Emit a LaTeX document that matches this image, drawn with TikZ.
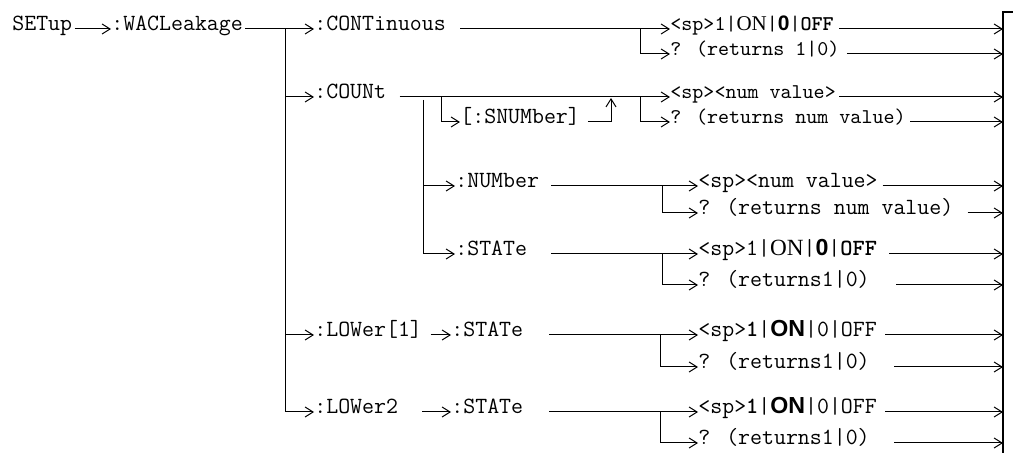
\documentclass[tikz,border=0pt]{standalone}
\usepackage{fontspec}
\setmainfont{Liberation Serif}
\setsansfont{Liberation Sans}
\usetikzlibrary{arrows.meta}
\tikzset{
  cmd/.style={anchor=west, inner xsep=0pt, inner ysep=0pt, text height=2pt,
    text depth=0pt, font=\ttfamily\fontsize{11.6}{13}\selectfont},
  cmdsm/.style={cmd, font=\ttfamily\fontsize{10.5}{12}\selectfont},
  flow/.style={-{Straight Barb[length=4pt,width=5pt]}, line width=0.5pt},
  bar/.style={line width=0.6pt}
}
\newcommand{\bsf}[1]{\textsf{\bfseries #1}}

\begin{document}
\begin{tikzpicture}[x=0.5pt,y=-0.5pt]
\useasboundingbox (0,0) rectangle (1033,453);

% Command tree on the left
\node[cmd] (setup) at (12,29) {SETup};
\node[cmd] (wac) at (111,29) {:WACLeakage};
\node[cmd] (cont) at (314,29) {:CONTinuous};
\node[cmd] (count) at (314,97) {:COUNt};
\node[cmd] (snum) at (460,122) {[:SNUMber]};
\node[cmd] (numb) at (455,186) {:NUMber};
\node[cmd] (cstate) at (455,254) {:STATe};
\node[cmd] (low1) at (314,335) {:LOWer[1]};
\node[cmd] (l1state) at (451,335) {:STATe};
\node[cmd] (low2) at (314,412) {:LOWer2};
\node[cmd] (l2state) at (451,412) {:STATe};

% Parameters and queries
\node[cmdsm] (contset) at (670,29) {<sp>1|\textrm{ON}|\bsf{0}|\textbf{OFF}};
\node[cmdsm] (contq) at (670,54) {? (returns 1|0)};
\node[cmdsm] (countset) at (670,97) {<sp><num value>};
\node[cmdsm] (countq) at (670,122) {? (returns num value)};
\node[cmd] (numset) at (698,186) {<sp><num value>};
\node[cmd] (numq) at (698,213) {? (returns num value)};
\node[cmd] (cstset) at (698,254) {<sp>1|\textrm{ON}|\bsf{0}|\textbf{OFF}};
\node[cmd] (cstq) at (698,285) {? (returns1|0)};
\node[cmd] (l1set) at (698,335) {<sp>\textbf{1}|\bsf{ON}|0|OFF};
\node[cmd] (l1q) at (698,367) {? (returns1|0)};
\node[cmd] (l2set) at (698,412) {<sp>\textbf{1}|\bsf{ON}|0|OFF};
\node[cmd] (l2q) at (698,443) {? (returns1|0)};

% Junction points
\coordinate (trunk) at (285,29);
\coordinate (contj) at (640,29);
\coordinate (countj) at (640,97);
\coordinate (sub) at (423,100);
\coordinate (opt) at (441,97);
\coordinate (optend) at (611,98);
\coordinate (numj) at (662,186);
\coordinate (cstj) at (662,254);
\coordinate (l1j) at (660,335);
\coordinate (l2j) at (660,412);
\coordinate (bartop) at (1003,12);
\coordinate (barbot) at (1003,453);
\coordinate (barend) at (1013,12);

% Main branches
\draw[flow, shorten <=1pt] (setup.east) -- (wac.west);
\draw[flow, shorten <=1pt] (wac.east) -- (cont.west);
\draw[flow] (trunk) |- (low2.west);
\draw[flow] (trunk |- count.west) -- (count.west);
\draw[flow] (trunk |- low1.west) -- (low1.west);

% CONTinuous and COUNt
\draw[flow, shorten <=7pt] (cont.east) -- (contset.west);
\draw[flow] (contj) |- (contq.west);
\draw[flow, shorten <=6.6pt] (count.east) -- (countset.west);
\draw[flow] (countj) |- (countq.west);
\draw[flow] (opt) |- (snum.west);
\draw[flow, shorten <=3.8pt] (snum.east) -| (optend);
\draw[flow] (sub) |- (cstate.west);
\draw[flow] (sub |- numb.west) -- (numb.west);
\draw[flow, shorten <=5.8pt] (numb.east) -- (numset.west);
\draw[flow] (numj) |- (numq.west);
\draw[flow, shorten <=12pt] (cstate.east) -- (cstset.west);
\draw[flow] (cstj) |- (cstq.west);

% LOWer branches
\draw[flow, shorten <=4.2pt] (low1.east) -- (l1state.west);
\draw[flow, shorten <=13pt] (l1state.east) -- (l1set.west);
\draw[flow] (l1j) |- (l1q.west);
\draw[flow, shorten <=11.8pt] (low2.east) -- (l2state.west);
\draw[flow, shorten <=13pt] (l2state.east) -- (l2set.west);
\draw[flow] (l2j) |- (l2q.west);

% Lines into the right bar
\draw[flow, shorten <=2.7pt] (contset.east) -- (contset.east -| bartop);
\draw[flow, shorten <=3.5pt] (contq.east) -- (contq.east -| bartop);
\draw[flow, shorten <=1.5pt] (countset.east) -- (countset.east -| bartop);
\draw[flow, shorten <=2pt] (countq.east) -- (countq.east -| bartop);
\draw[flow, shorten <=2.3pt] (numset.east) -- (numset.east -| bartop);
\draw[flow, shorten <=6.9pt] (numq.east) -- (numq.east -| bartop);
\draw[flow, shorten <=6pt] (cstset.east) -- (cstset.east -| bartop);
\draw[flow, shorten <=13pt] (cstq.east) -- (cstq.east -| bartop);
\draw[flow, shorten <=4pt] (l1set.east) -- (l1set.east -| bartop);
\draw[flow, shorten <=12pt] (l1q.east) -- (l1q.east -| bartop);
\draw[flow, shorten <=4pt] (l2set.east) -- (l2set.east -| bartop);
\draw[flow, shorten <=12pt] (l2q.east) -- (l2q.east -| bartop);
\draw[bar] (barbot) -- (bartop) -- (barend);

\end{tikzpicture}
\end{document}
